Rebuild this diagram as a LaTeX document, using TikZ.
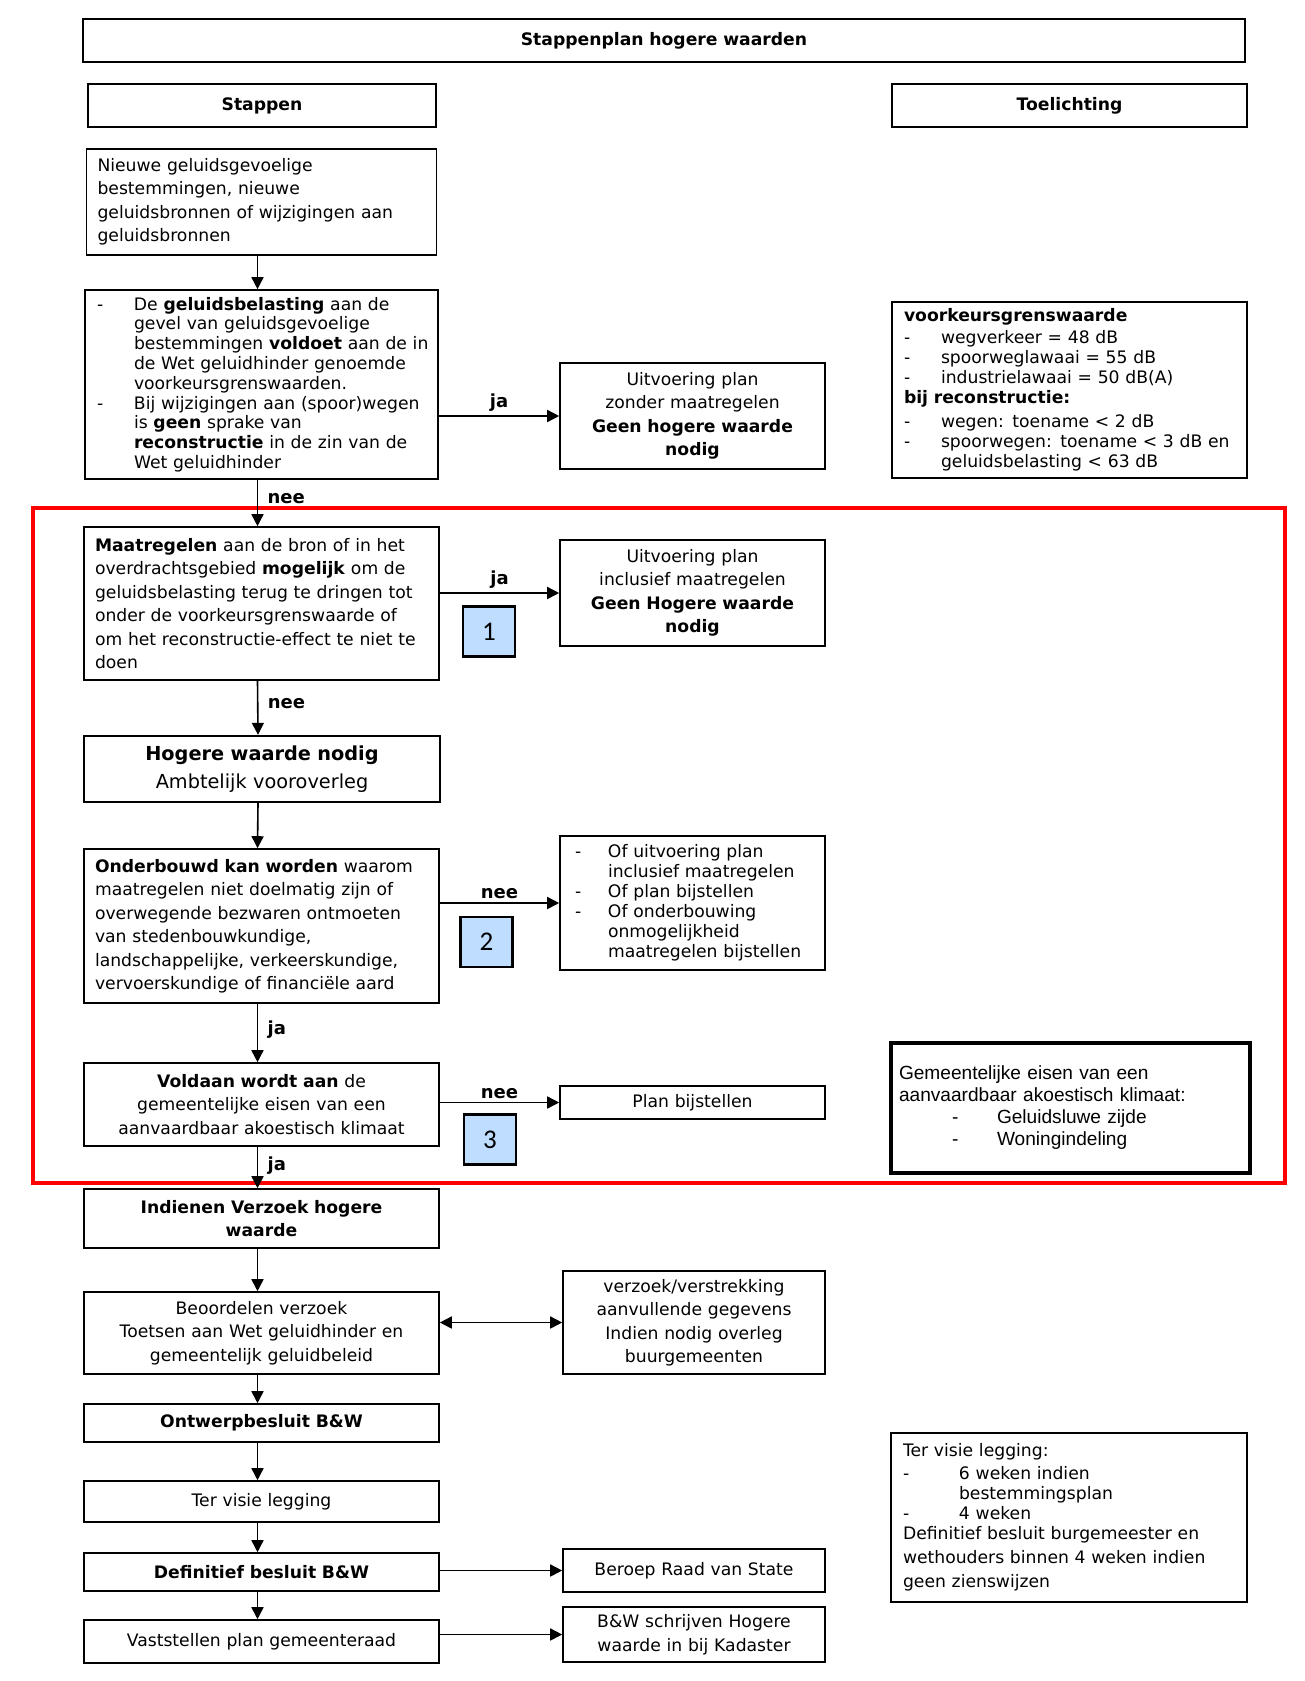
\documentclass[tikz,border=0pt]{standalone}
\usepackage{fontspec}
\setmainfont{DejaVu Sans}
\newfontfamily\arialfont{Liberation Sans}
\newfontfamily\califont{Carlito}
\usepackage{xcolor}
\definecolor{mylightblue}{RGB}{191,222,255}
\usepackage{tikz}
\usetikzlibrary{arrows.meta}
\newcommand{\tekst}{\fontsize{17.2}{23.5}\selectfont}
\newcommand{\dicht}{\fontsize{17.2}{19.8}\selectfont}
\newcommand{\lijst}{\fontsize{17.2}{20}\selectfont}
\newcommand{\streep}[1]{\makebox[#1][l]{-}}
\newcommand{\inspring}[1]{\hspace*{#1}}

\begin{document}
\begin{tikzpicture}[x=1pt,y=1pt,line cap=round]
	\tikzstyle{kader}=[draw,line width=1.6pt,inner xsep=11pt,inner ysep=0pt,font=\tekst];
	\tikzstyle{nummer}=[draw,line width=2.6pt,fill=mylightblue,minimum width=52pt,minimum height=50pt,inner sep=0pt,font=\califont\fontsize{27}{27}\selectfont];
	\tikzstyle{pijl}=[line width=1.6pt,-{Triangle[length=12pt,width=12pt]}];
	\tikzstyle{tweepijl}=[line width=1.6pt,{Triangle[length=12pt,width=12pt]}-{Triangle[length=12pt,width=12pt]}];
	\tikzstyle{lbl}=[font=\fontsize{18}{18}\selectfont\bfseries];
	\useasboundingbox (0,0) rectangle (1304,-1681);
	% koppen
	\node[kader,minimum height=43pt,text width=1140pt,align=center] (kop) at (664,-40.5) {\textbf{Stappenplan hogere waarden}};
	\node[kader,minimum height=43pt,text width=326pt,align=center] (kop1) at (262,-105.5) {\textbf{Stappen}};
	\node[kader,minimum height=43pt,text width=333pt,align=center] (kop2) at (1069.5,-105.5) {\textbf{Toelichting}};
	% stappen
	\node[kader,minimum height=106pt,text width=328pt,align=left] (s1) at (261.5,-202) {Nieuwe geluidsgevoelige\\ bestemmingen, nieuwe\\ geluidsbronnen of wijzigingen aan\\ geluidsbronnen};
	\node[kader,minimum height=189pt,inner xsep=4pt,text width=345pt,align=left,font=\dicht] (s2) at (261.5,-384.5) {\inspring{8pt}\streep{37pt}De \textbf{geluidsbelasting} aan de\\ \inspring{45pt}gevel van geluidsgevoelige\\ \inspring{45pt}bestemmingen \textbf{voldoet} aan de in\\ \inspring{45pt}de Wet geluidhinder genoemde\\ \inspring{45pt}voorkeursgrenswaarden.\\ \inspring{8pt}\streep{37pt}Bij wijzigingen aan (spoor)wegen\\ \inspring{45pt}is \textbf{geen} sprake van\\ \inspring{45pt}\textbf{reconstructie} in de zin van de\\ \inspring{45pt}Wet geluidhinder};
	\node[kader,minimum height=153pt,text width=333pt,align=left] (s3) at (261.5,-603.5) {\textbf{Maatregelen} aan de bron of in het\\ overdrachtsgebied \textbf{mogelijk} om de\\ geluidsbelasting terug te dringen tot\\ onder de voorkeursgrenswaarde of\\ om het reconstructie-effect te niet te\\ doen};
	\node[kader,line width=2.4pt,minimum height=66pt,text width=334pt,align=center,font=\fontsize{19.3}{28}\selectfont] (s4) at (262,-769) {\textbf{Hogere waarde nodig}\\ Ambtelijk vooroverleg};
	\node[kader,minimum height=154pt,text width=333pt,align=left] (s5) at (261.5,-926) {\textbf{Onderbouwd kan worden} waarom\\ maatregelen niet doelmatig zijn of\\ overwegende bezwaren ontmoeten\\ van stedenbouwkundige,\\ landschappelijke, verkeerskundige,\\ vervoerskundige of financiële aard};
	\node[kader,minimum height=83pt,text width=333pt,align=center] (s6) at (261.5,-1104.5) {\textbf{Voldaan wordt aan} de\\ gemeentelijke eisen van een\\ aanvaardbaar akoestisch klimaat};
	\node[kader,minimum height=59pt,text width=333pt,align=center] (s7) at (261.5,-1218.5) {\textbf{Indienen Verzoek hogere}\\ \textbf{waarde}};
	\node[kader,minimum height=82pt,text width=333pt,align=center] (s8) at (261.5,-1333) {Beoordelen verzoek\\ Toetsen aan Wet geluidhinder en\\ gemeentelijk geluidbeleid};
	\node[kader,minimum height=38pt,text width=333pt,align=center] (s9) at (261.5,-1423) {\textbf{Ontwerpbesluit B\&W}};
	\node[kader,minimum height=41pt,text width=333pt,align=center] (s10) at (261.5,-1501.5) {Ter visie legging};
	\node[kader,minimum height=38pt,text width=333pt,align=center] (s11) at (261.5,-1572) {\textbf{Definitief besluit B\&W}};
	\node[kader,minimum height=43pt,text width=333pt,align=center] (s12) at (261.5,-1641.5) {Vaststellen plan gemeenteraad};
	% uitkomsten
	\node[kader,minimum height=106pt,text width=243pt,align=center] (t1) at (692.5,-416) {Uitvoering plan\\ zonder maatregelen\\ \textbf{Geen hogere waarde}\\ \textbf{nodig}};
	\node[kader,minimum height=106pt,text width=243pt,align=center] (t2) at (692.5,-593) {Uitvoering plan\\ inclusief maatregelen\\ \textbf{Geen Hogere waarde}\\ \textbf{nodig}};
	\node[kader,minimum height=134pt,inner xsep=15pt,text width=235pt,align=left,font=\lijst] (t3) at (692.5,-903) {\streep{33pt}Of uitvoering plan\\ \inspring{33pt}inclusief maatregelen\\ \streep{33pt}Of plan bijstellen\\ \streep{33pt}Of onderbouwing\\ \inspring{33pt}onmogelijkheid\\ \inspring{33pt}maatregelen bijstellen};
	\node[kader,minimum height=33pt,text width=243pt,align=center] (t4) at (692.5,-1102.5) {Plan bijstellen};
	\node[kader,minimum height=103pt,text width=240pt,align=center] (t5) at (694,-1322.5) {verzoek/verstrekking\\ aanvullende gegevens\\ Indien nodig overleg\\ buurgemeenten};
	\node[kader,minimum height=43pt,text width=240pt,align=center] (t6) at (694,-1570.5) {Beroep Raad van State};
	\node[kader,minimum height=55pt,text width=240pt,align=center] (t7) at (694,-1634.5) {B\&W schrijven Hogere\\ waarde in bij Kadaster};
	% toelichting
	\node[kader,minimum height=176pt,inner xsep=12pt,text width=331pt,align=left,font=\lijst] (u1) at (1069.5,-390) {\textbf{voorkeursgrenswaarde}\\[2pt] \streep{37pt}wegverkeer = 48 dB\\ \streep{37pt}spoorweglawaai = 55 dB\\ \streep{37pt}industrielawaai = 50 dB(A)\\ \textbf{bij reconstructie:}\\[4pt] \streep{37pt}wegen: toename < 2 dB\\ \streep{37pt}spoorwegen: toename < 3 dB en\\ \inspring{37pt}geluidsbelasting < 63 dB};
	\node[kader,line width=3.2pt,minimum height=130pt,inner xsep=8pt,text width=343pt,align=left,font=\arialfont\fontsize{19.1}{22}\selectfont] (u2) at (1070.5,-1108) {Gemeentelijke eisen van een\\ aanvaardbaar akoestisch klimaat:\\ \inspring{53pt}\streep{45pt}Geluidsluwe zijde\\ \inspring{53pt}\streep{45pt}Woningindeling};
	\node[kader,minimum height=169pt,inner xsep=12pt,text width=332pt,align=left,font=\lijst] (u3) at (1069,-1517.5) {Ter visie legging:\\[3pt] \streep{56pt}6 weken indien\\ \inspring{56pt}bestemmingsplan\\ \streep{56pt}4 weken\\ Definitief besluit burgemeester en\\[4pt] wethouders binnen 4 weken indien\\[4pt] geen zienswijzen};
	% nummers
	\node[nummer] (b1) at (489,-631.5) {1};
	\node[nummer] (b2) at (486.5,-942) {2};
	\node[nummer] (b3) at (490,-1139.5) {3};
	% kader rood
	\draw[red,line width=3.4pt] (33,-508) rectangle (1285,-1183);
	% pijlen
	\draw[pijl] ([xshift=-4pt]s1.south) to ([xshift=-4pt]s2.north);
	\draw[pijl] ([xshift=-4pt]s2.south) to node[lbl,right,pos=.4,xshift=6pt] {nee} ([xshift=-4pt]s3.north);
	\draw[pijl] ([xshift=-4pt]s3.south) to node[lbl,right,pos=.43,xshift=6pt] {nee} ([xshift=-4pt]s4.north);
	\draw[pijl] ([xshift=-4pt]s4.south) to ([xshift=-4pt]s5.north);
	\draw[pijl] ([xshift=-4pt]s5.south) to node[lbl,right,pos=.45,xshift=6pt] {ja} ([xshift=-4pt]s6.north);
	\draw[pijl] ([xshift=-4pt]s6.south) to node[lbl,right,pos=.45,xshift=6pt] {ja} ([xshift=-4pt]s7.north);
	\draw[pijl] ([xshift=-4pt]s7.south) to ([xshift=-4pt]s8.north);
	\draw[pijl] ([xshift=-4pt]s8.south) to ([xshift=-4pt]s9.north);
	\draw[pijl] ([xshift=-4pt]s9.south) to ([xshift=-4pt]s10.north);
	\draw[pijl] ([xshift=-4pt]s10.south) to ([xshift=-4pt]s11.north);
	\draw[pijl] ([xshift=-4pt]s11.south) to ([xshift=-4pt]s12.north);
	\draw[pijl] (s2.east |- t1) to node[lbl,above] {ja} (t1);
	\draw[pijl] (s3.east |- t2) to node[lbl,above] {ja} (t2);
	\draw[pijl] (s5.east |- t3) to node[lbl,above] {nee} (t3);
	\draw[pijl] (s6.east |- t4) to node[lbl,above] {nee} (t4);
	\draw[tweepijl] (s8.east |- t5) to (t5);
	\draw[pijl] (s11.east |- t6) to (t6);
	\draw[pijl] (s12.east |- t7) to (t7);
\end{tikzpicture}
\end{document}
